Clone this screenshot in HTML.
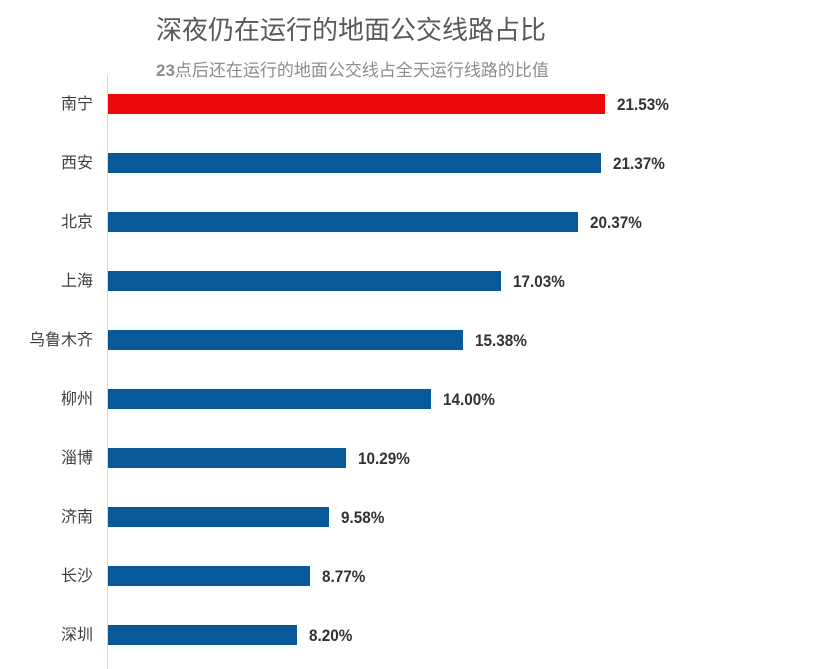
<!DOCTYPE html>
<html><head><meta charset="utf-8"><style>
body{margin:0;width:828px;height:669px;background:#fff;overflow:hidden;position:relative;font-family:"Liberation Sans","Noto Sans CJK SC",sans-serif}
.t{position:absolute;left:156px;top:10px;font-size:26px;color:#595959;white-space:nowrap}
.s{position:absolute;left:156px;top:56px;font-size:17px;color:#8c8c8c;white-space:nowrap}
.ax{position:absolute;left:107px;top:75px;width:1px;height:594px;background:#d9d9d9}
.l{position:absolute;right:735px;font-size:16px;color:#404040;white-space:nowrap;line-height:20px;margin-top:1px}
.b{position:absolute;left:108px;height:20px;background:#08589a}
.v{position:absolute;font-size:17px;font-weight:bold;color:#333;line-height:20px;margin-top:1px;transform:scaleX(0.9);transform-origin:left center}
</style></head><body>
<div class="t">深夜仍在运行的地面公交线路占比</div>
<div class="s"><b>23</b>点后还在运行的地面公交线占全天运行线路的比值</div>
<div class="ax"></div>
<div class="l" style="top:94px">南宁</div><div class="b" style="top:94px;width:497px;background:#ee0909"></div><div class="v" style="top:94px;left:617px">21.53%</div>
<div class="l" style="top:153px">西安</div><div class="b" style="top:153px;width:493px"></div><div class="v" style="top:153px;left:613px">21.37%</div>
<div class="l" style="top:212px">北京</div><div class="b" style="top:212px;width:470px"></div><div class="v" style="top:212px;left:590px">20.37%</div>
<div class="l" style="top:271px">上海</div><div class="b" style="top:271px;width:393px"></div><div class="v" style="top:271px;left:513px">17.03%</div>
<div class="l" style="top:330px">乌鲁木齐</div><div class="b" style="top:330px;width:355px"></div><div class="v" style="top:330px;left:475px">15.38%</div>
<div class="l" style="top:389px">柳州</div><div class="b" style="top:389px;width:323px"></div><div class="v" style="top:389px;left:443px">14.00%</div>
<div class="l" style="top:448px">淄博</div><div class="b" style="top:448px;width:238px"></div><div class="v" style="top:448px;left:358px">10.29%</div>
<div class="l" style="top:507px">济南</div><div class="b" style="top:507px;width:221px"></div><div class="v" style="top:507px;left:341px">9.58%</div>
<div class="l" style="top:566px">长沙</div><div class="b" style="top:566px;width:202px"></div><div class="v" style="top:566px;left:322px">8.77%</div>
<div class="l" style="top:625px">深圳</div><div class="b" style="top:625px;width:189px"></div><div class="v" style="top:625px;left:309px">8.20%</div>
</body></html>
